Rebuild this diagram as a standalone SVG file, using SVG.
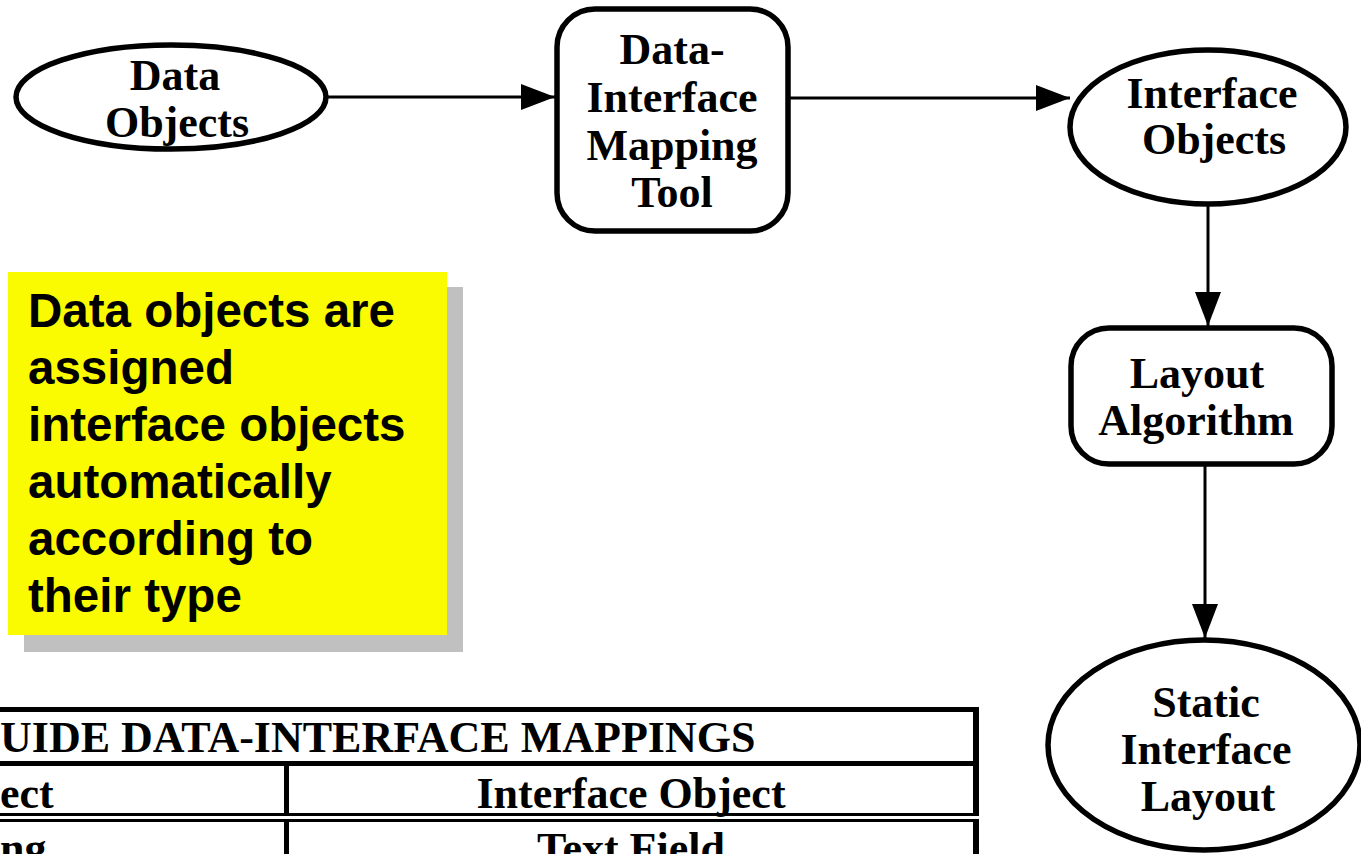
<svg xmlns="http://www.w3.org/2000/svg" width="1361" height="854" viewBox="0 0 1361 854">
<defs>
<style>
.node{fill:#fff;stroke:#000;stroke-width:5.5}
.lbl{font-family:"Liberation Serif","Times New Roman",serif;font-weight:bold;font-size:44px;text-anchor:middle;fill:#000}
.note{font-family:"Liberation Sans",Arial,sans-serif;font-weight:bold;font-size:47.5px;fill:#000}
.tbl{font-family:"Liberation Serif","Times New Roman",serif;font-weight:bold;font-size:44px;fill:#000}
.edge{stroke:#000;stroke-width:3;fill:none;marker-end:url(#ah)}
</style>
<marker id="ah" viewBox="0 0 34 26" refX="34" refY="13" markerWidth="34" markerHeight="26" markerUnits="userSpaceOnUse" orient="auto">
<path d="M0,0 L34,13 L0,26 Z" fill="#000"/>
</marker>
</defs>
<rect width="1361" height="854" fill="#fff"/>
<g id="connectors">
<line class="edge" x1="327" y1="97" x2="555" y2="97"/>
<line class="edge" x1="790" y1="98" x2="1070" y2="98"/>
<line class="edge" x1="1208" y1="204" x2="1208" y2="326"/>
<line class="edge" x1="1205" y1="466" x2="1205" y2="638"/>
</g>
<g id="data-objects">
<ellipse class="node" cx="171" cy="97" rx="155" ry="52"/>
<text class="lbl" x="175" y="90">Data</text>
<text class="lbl" x="177" y="137">Objects</text>
</g>
<g id="mapping-tool">
<rect class="node" x="557" y="9" width="231" height="222" rx="38" ry="38"/>
<text class="lbl" x="672" y="64">Data-</text>
<text class="lbl" x="672" y="112">Interface</text>
<text class="lbl" x="672" y="160">Mapping</text>
<text class="lbl" x="672" y="207">Tool</text>
</g>
<g id="interface-objects">
<ellipse class="node" cx="1208" cy="127" rx="138" ry="77"/>
<text class="lbl" x="1212" y="108">Interface</text>
<text class="lbl" x="1214" y="154">Objects</text>
</g>
<g id="layout-algorithm">
<rect class="node" x="1071" y="328" width="261" height="136" rx="38" ry="38"/>
<text class="lbl" x="1197" y="388">Layout</text>
<text class="lbl" x="1196" y="435">Algorithm</text>
</g>
<g id="static-layout">
<ellipse class="node" cx="1204" cy="745" rx="156" ry="105"/>
<text class="lbl" x="1206" y="717">Static</text>
<text class="lbl" x="1206" y="764">Interface</text>
<text class="lbl" x="1208" y="811">Layout</text>
</g>
<g id="note">
<rect x="24" y="287" width="439" height="365" fill="#c0c0c0"/>
<rect x="8" y="272" width="439" height="363" fill="#fafa00"/>
<text class="note" x="28" y="327">Data objects are</text>
<text class="note" x="28" y="384">assigned</text>
<text class="note" x="28" y="441">interface objects</text>
<text class="note" x="28" y="498">automatically</text>
<text class="note" x="28" y="555">according to</text>
<text class="note" x="28" y="612">their type</text>
</g>
<g id="table">
<rect x="0" y="707" width="973" height="5" fill="#000"/>
<rect x="973" y="707" width="6" height="147" fill="#000"/>
<rect x="0" y="761" width="979" height="5" fill="#000"/>
<rect x="0" y="813" width="979" height="3" fill="#000"/>
<rect x="0" y="819" width="979" height="3" fill="#000"/>
<rect x="284" y="761" width="5" height="93" fill="#000"/>
<rect x="0" y="816" width="979" height="3" fill="#fff"/>
<text class="tbl" x="0" y="752">UIDE DATA-INTERFACE MAPPINGS</text>
<text class="tbl" x="0" y="808">ect</text>
<text class="tbl" x="631" y="808" text-anchor="middle">Interface Object</text>
<text class="tbl" x="0" y="863">ng</text>
<text class="tbl" x="631" y="863" text-anchor="middle">Text Field</text>
</g>
</svg>
